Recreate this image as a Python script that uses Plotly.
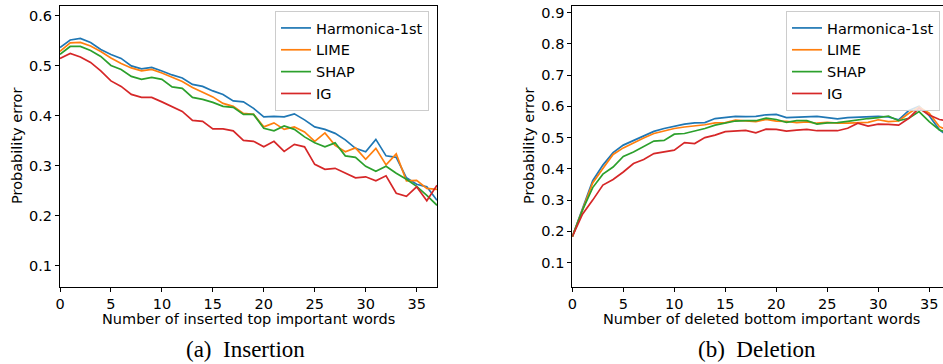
import plotly.graph_objects as go

W, H = 943, 364

x_ins = list(range(38))
x_del = list(range(38))

ins_harmonica = [0.537, 0.552, 0.555, 0.547, 0.533, 0.523, 0.515, 0.500, 0.494, 0.497, 0.490, 0.482, 0.476, 0.463, 0.459, 0.450, 0.443, 0.430, 0.428, 0.415, 0.398, 0.399, 0.398, 0.404, 0.392, 0.378, 0.373, 0.365, 0.352, 0.335, 0.328, 0.353, 0.320, 0.317, 0.276, 0.263, 0.258, 0.231]
ins_lime = [0.529, 0.546, 0.547, 0.540, 0.529, 0.516, 0.505, 0.496, 0.490, 0.493, 0.486, 0.478, 0.469, 0.457, 0.448, 0.438, 0.425, 0.419, 0.405, 0.403, 0.378, 0.386, 0.373, 0.378, 0.368, 0.349, 0.366, 0.341, 0.328, 0.336, 0.313, 0.335, 0.302, 0.324, 0.270, 0.271, 0.255, 0.253]
ins_shap = [0.523, 0.539, 0.539, 0.531, 0.519, 0.501, 0.493, 0.479, 0.473, 0.477, 0.473, 0.458, 0.455, 0.437, 0.433, 0.427, 0.419, 0.417, 0.403, 0.403, 0.375, 0.370, 0.380, 0.373, 0.358, 0.346, 0.338, 0.346, 0.320, 0.317, 0.299, 0.289, 0.299, 0.285, 0.273, 0.259, 0.241, 0.221]
ins_ig = [0.515, 0.525, 0.518, 0.507, 0.490, 0.470, 0.459, 0.443, 0.437, 0.437, 0.428, 0.419, 0.409, 0.391, 0.389, 0.374, 0.374, 0.370, 0.351, 0.349, 0.338, 0.349, 0.329, 0.343, 0.338, 0.303, 0.293, 0.295, 0.285, 0.276, 0.278, 0.270, 0.280, 0.245, 0.239, 0.258, 0.230, 0.261]

del_harmonica = [0.183, 0.273, 0.362, 0.412, 0.452, 0.476, 0.491, 0.507, 0.520, 0.529, 0.537, 0.543, 0.547, 0.548, 0.561, 0.564, 0.568, 0.567, 0.568, 0.573, 0.574, 0.564, 0.566, 0.568, 0.568, 0.564, 0.560, 0.564, 0.566, 0.566, 0.568, 0.566, 0.557, 0.587, 0.600, 0.570, 0.525, 0.500]
del_lime = [0.183, 0.271, 0.355, 0.401, 0.446, 0.467, 0.484, 0.499, 0.513, 0.521, 0.529, 0.534, 0.537, 0.541, 0.547, 0.548, 0.556, 0.554, 0.551, 0.558, 0.553, 0.552, 0.548, 0.550, 0.546, 0.549, 0.546, 0.546, 0.548, 0.549, 0.557, 0.551, 0.553, 0.578, 0.598, 0.578, 0.535, 0.520]
del_shap = [0.183, 0.268, 0.340, 0.383, 0.406, 0.440, 0.454, 0.472, 0.489, 0.491, 0.511, 0.513, 0.521, 0.529, 0.540, 0.546, 0.553, 0.554, 0.554, 0.562, 0.558, 0.549, 0.554, 0.554, 0.543, 0.547, 0.548, 0.552, 0.557, 0.561, 0.564, 0.569, 0.554, 0.562, 0.583, 0.551, 0.524, 0.515]
del_ig = [0.183, 0.255, 0.300, 0.348, 0.366, 0.390, 0.417, 0.430, 0.449, 0.454, 0.460, 0.484, 0.481, 0.500, 0.508, 0.519, 0.521, 0.523, 0.515, 0.527, 0.526, 0.521, 0.524, 0.526, 0.522, 0.521, 0.522, 0.530, 0.546, 0.537, 0.543, 0.542, 0.540, 0.562, 0.594, 0.572, 0.558, 0.552]

names = ["Harmonica-1st", "LIME", "SHAP", "IG"]
colors = ["#1f77b4", "#ff7f0e", "#2ca02c", "#d62728"]
x_ticks = [0, 5, 10, 15, 20, 25, 30, 35]
y_ticks_ins = [0.1, 0.2, 0.3, 0.4, 0.5, 0.6]
y_ticks_del = [0.1, 0.2, 0.3, 0.4, 0.5, 0.6, 0.7, 0.8, 0.9]

FONT = "DejaVu Sans"
FS = 14.5

def px(v):
    return v / W

def py(v):
    return 1 - v / H

fig = go.Figure()
for i, (n, c, ys) in enumerate(zip(names, colors, [ins_harmonica, ins_lime, ins_shap, ins_ig])):
    fig.add_trace(go.Scatter(x=x_ins, y=ys, mode="lines", name=n, line=dict(color=c, width=1.7),
                             xaxis="x", yaxis="y", legend="legend", legendgroup="a%d" % i))
for i, (n, c, ys) in enumerate(zip(names, colors, [del_harmonica, del_lime, del_shap, del_ig])):
    fig.add_trace(go.Scatter(x=x_del, y=ys, mode="lines", name=n, line=dict(color=c, width=1.7),
                             xaxis="x2", yaxis="y2", legend="legend2", legendgroup="b%d" % i))

ydom = [py(286.7), py(6)]
axis_common = dict(showline=True, linecolor="black", linewidth=1, ticks="outside", ticklen=4,
                   tickcolor="black", tickwidth=1, showgrid=False, zeroline=False,
                   tickfont=dict(family=FONT, size=FS, color="black"), automargin=False)

legend_common = dict(font=dict(family=FONT, size=FS, color="black"), bgcolor="rgba(255,255,255,0.8)",
                     bordercolor="#cccccc", borderwidth=1, xanchor="right", yanchor="top",
                     tracegroupgap=0, itemwidth=30)

fig.update_layout(
    width=W, height=H, margin=dict(l=0, r=0, t=0, b=0),
    paper_bgcolor="white", plot_bgcolor="white",
    xaxis=dict(domain=[px(60), px(437)], range=[0, 37], tickvals=x_ticks, mirror=True, anchor="y", **axis_common),
    yaxis=dict(domain=ydom, range=[0.058, 0.62], tickvals=y_ticks_ins, tickformat=".1f", mirror=True, anchor="x", **axis_common),
    xaxis2=dict(domain=[px(572.3), 1.0], range=[0, 36.35], tickvals=x_ticks, mirror=True, anchor="y2", **axis_common),
    yaxis2=dict(domain=ydom, range=[0.023, 0.921], tickvals=y_ticks_del, tickformat=".1f", anchor="x2", **axis_common),
    legend=dict(x=px(429), y=py(11), **legend_common),
    legend2=dict(x=px(940), y=py(11), **legend_common),
    showlegend=True,
)

ann = [
    dict(text="Number of inserted top important words", x=px(248.5), y=py(319), size=FS, fam=FONT, rot=0),
    dict(text="Number of deleted bottom important words", x=px(761), y=py(319), size=FS, fam=FONT, rot=0),
    dict(text="Probability error", x=px(17), y=py(146), size=FS, fam=FONT, rot=-90),
    dict(text="Probability error", x=px(529), y=py(146), size=FS, fam=FONT, rot=-90),
    dict(text="(a)  Insertion", x=px(245), y=py(349), size=23, fam="Liberation Serif", rot=0),
    dict(text="(b)  Deletion", x=px(757), y=py(349), size=23, fam="Liberation Serif", rot=0),
]
for a in ann:
    fig.add_annotation(text=a["text"], x=a["x"], y=a["y"], xref="paper", yref="paper",
                       xanchor="center", yanchor="middle", showarrow=False, textangle=a["rot"],
                       font=dict(family=a["fam"], size=a["size"], color="black"))

fig.write_html("out.html")
